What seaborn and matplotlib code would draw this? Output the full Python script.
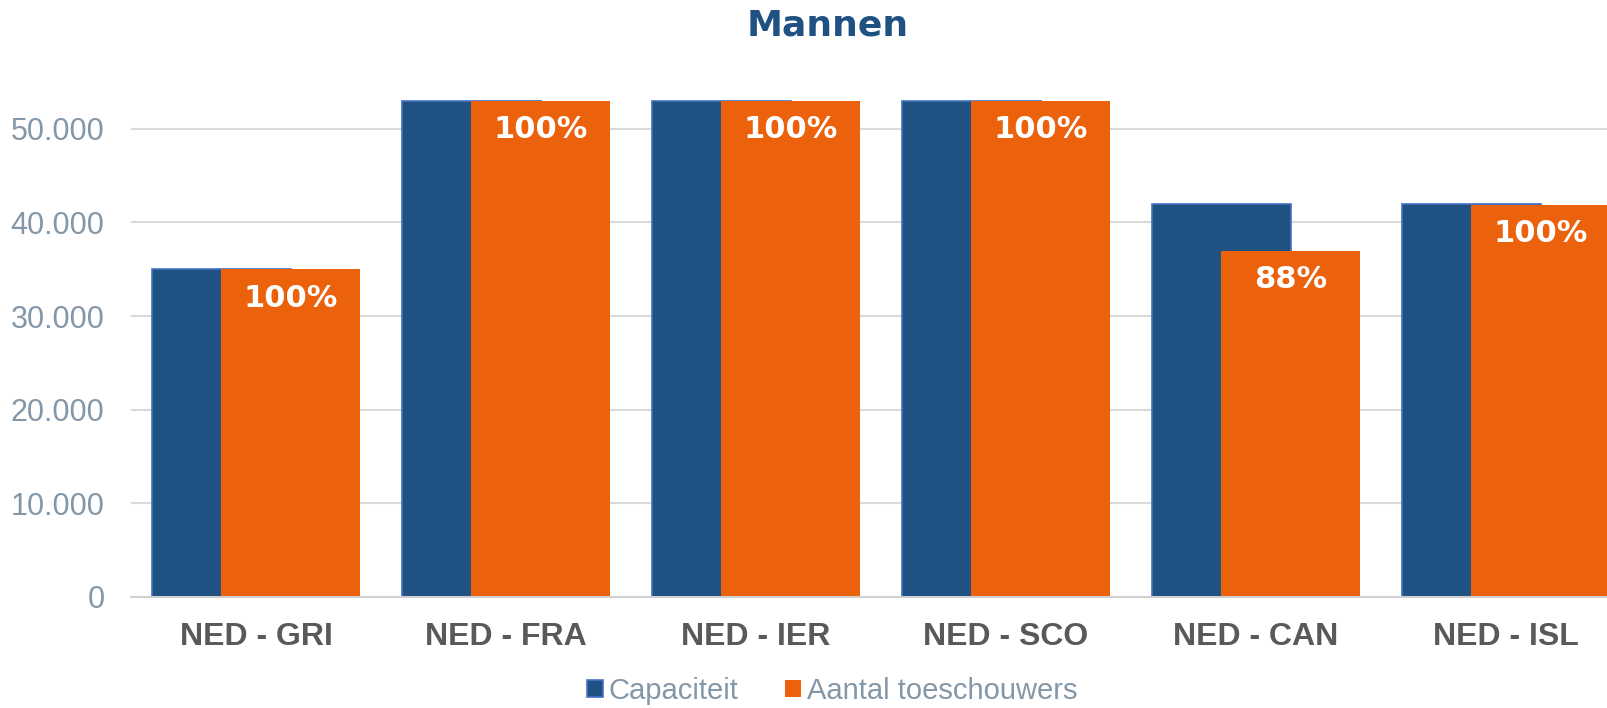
import matplotlib
matplotlib.use("Agg")
import pandas as pd
import matplotlib.pyplot as plt
import seaborn as sns
from matplotlib.ticker import FuncFormatter

# gegevens
wedstrijden = ["NED - GRI", "NED - FRA", "NED - IER", "NED - SCO", "NED - CAN", "NED - ISL"]
capaciteit = [35000, 53000, 53000, 53000, 42000, 42000]
toeschouwers = [35000, 53000, 53000, 53000, 37000, 41900]
reeksen = ["Capaciteit", "Aantal toeschouwers"]

blauw = "#1F5182"
oranje = "#EC620C"
grijsblauw = "#8497A8"

sns.set_theme(style="white")
plt.rcParams['font.family'] = ['Liberation Sans', 'DejaVu Sans']

fig = plt.figure(figsize=(16.07, 7.08), dpi=100)
ax = fig.add_axes([131 / 1607, 111 / 708, 1500 / 1607, 515 / 708])

df = pd.DataFrame({"wedstrijd": wedstrijden,
                   reeksen[0]: capaciteit,
                   reeksen[1]: toeschouwers})

breedte = 0.556
verschuiving = 0.139

sns.barplot(data=df, x="wedstrijd", y=reeksen[0], color=blauw, width=breedte,
            saturation=1, edgecolor="#4472C4", linewidth=1.2, ax=ax)
n = len(ax.patches)
sns.barplot(data=df, x="wedstrijd", y=reeksen[1], color=oranje, width=breedte,
            saturation=1, linewidth=0, ax=ax)

# overlappende balken zoals in Excel
for i, p in enumerate(ax.patches):
    p.set_x(p.get_x() + (-verschuiving if i < n else verschuiving))

# percentages in de oranje balken
for i, p in enumerate(ax.patches[n:]):
    pct = round(100 * toeschouwers[i] / capaciteit[i])
    ax.annotate(f"{pct}%", (p.get_x() + p.get_width() / 2, p.get_height()),
                xytext=(0, -21), textcoords="offset points", ha="center", va="center",
                fontsize=22, fontweight="bold", color="white", family="DejaVu Sans")

ax.set_ylim(0, 55000)
ax.set_xlim(-0.5, 5.5)
ax.set_yticks(range(0, 50001, 10000))
ax.yaxis.set_major_formatter(FuncFormatter(lambda v, _: f"{v:,.0f}".replace(",", ".")))
ax.set_xlabel("")
ax.set_ylabel("")
ax.yaxis.grid(True, color="#D9D9D9", linewidth=1.5)
ax.set_axisbelow(True)
for s in ["top", "right", "left"]:
    ax.spines[s].set_visible(False)
ax.spines["bottom"].set_color("#D0D0D0")
ax.spines["bottom"].set_linewidth(1.5)
ax.tick_params(axis="y", length=0, pad=19, labelsize=22, labelcolor=grijsblauw)
ax.tick_params(axis="x", length=0, pad=18, labelsize=23, labelcolor="#595959")
for t in ax.get_xticklabels():
    t.set_fontweight("bold")

fig.text(828 / 1607, 1 - 25 / 708, "Mannen", ha="center", va="center", fontsize=26,
         fontweight="bold", color=blauw, family="DejaVu Sans")

fig.legend([ax.patches[0], ax.patches[n]], reeksen, loc="center",
           bbox_to_anchor=(832 / 1607, 1 - 691 / 708), ncol=2, frameon=False,
           fontsize=21, handlelength=0.55, handleheight=0.55, handletextpad=0.2,
           columnspacing=1.6, labelcolor=grijsblauw)

fig.savefig("out.png", dpi=100)
